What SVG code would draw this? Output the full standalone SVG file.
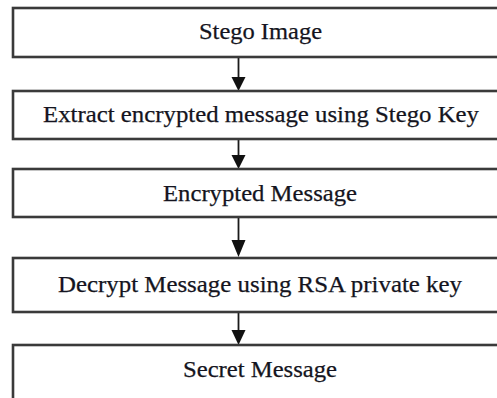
<svg xmlns="http://www.w3.org/2000/svg" width="497" height="398" viewBox="0 0 497 398">
  <style>
    .box { fill: #ffffff; stroke: #3a3a3a; stroke-width: 2.6; }
    .lbl { font-family: "Liberation Serif", "Times New Roman", Times, serif; font-size: 24px; fill: #141420; stroke: #141420; stroke-width: 0.25; text-anchor: middle; }
    .wire { stroke: #1a1a1a; stroke-width: 1.8; fill: none; }
    .head { fill: #111111; }
  </style>
  <rect width="497" height="398" fill="#ffffff"/>

  <g id="connectors">
    <line class="wire" x1="238.5" y1="57" x2="238.5" y2="78"/>
    <polygon class="head" points="231.5,77 245.5,77 238.5,91"/>
    <line class="wire" x1="238.5" y1="139" x2="238.5" y2="156"/>
    <polygon class="head" points="231.5,155 245.5,155 238.5,169"/>
    <line class="wire" x1="238.5" y1="217" x2="238.5" y2="240"/>
    <polygon class="head" points="231.5,240 245.5,240 238.5,257"/>
    <line class="wire" x1="238.5" y1="312" x2="238.5" y2="331"/>
    <polygon class="head" points="231.5,330 245.5,330 238.5,345"/>
  </g>

  <g id="stego-image">
    <rect class="box" x="13" y="8" width="494" height="49"/>
    <text class="lbl" x="260.5" y="39" textLength="123" lengthAdjust="spacingAndGlyphs">Stego Image</text>
  </g>

  <g id="extract">
    <rect class="box" x="13" y="91" width="494" height="48"/>
    <text class="lbl" x="261" y="122" textLength="436" lengthAdjust="spacingAndGlyphs">Extract encrypted message using Stego Key</text>
  </g>

  <g id="encrypted-message">
    <rect class="box" x="13" y="169" width="494" height="48"/>
    <text class="lbl" x="260" y="201" textLength="194" lengthAdjust="spacingAndGlyphs">Encrypted Message</text>
  </g>

  <g id="decrypt">
    <rect class="box" x="13" y="258" width="494" height="54"/>
    <text class="lbl" x="260" y="292" textLength="404" lengthAdjust="spacingAndGlyphs">Decrypt Message using RSA private key</text>
  </g>

  <g id="secret-message">
    <rect class="box" x="13" y="345" width="494" height="70"/>
    <text class="lbl" x="260" y="377" textLength="154" lengthAdjust="spacingAndGlyphs">Secret Message</text>
  </g>
</svg>
